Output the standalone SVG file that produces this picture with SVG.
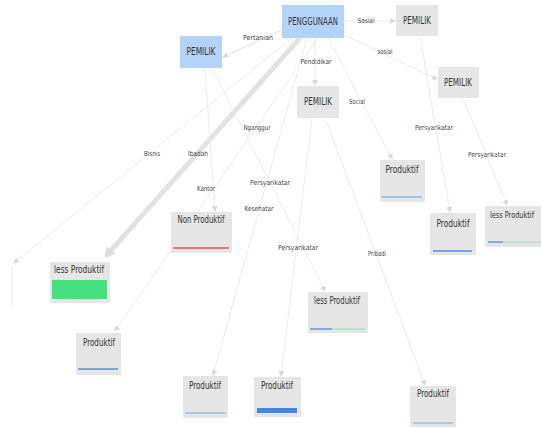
<svg xmlns="http://www.w3.org/2000/svg" width="541" height="428" viewBox="0 0 541 428">
<style>
.n{fill:#e6e6e6}
.b{fill:#b3d3f8}
.t{font-family:"DejaVu Sans Condensed","DejaVu Sans",sans-serif;font-stretch:condensed;font-size:10px;fill:#333;text-anchor:middle}
.l{font-family:"DejaVu Sans Condensed","DejaVu Sans",sans-serif;font-stretch:condensed;font-size:7px;fill:#444;text-anchor:middle}
.e{stroke:#ebebeb;stroke-width:1;fill:none}
</style>
<defs>
<marker id="a" markerWidth="6" markerHeight="6" refX="5" refY="3" orient="auto" markerUnits="userSpaceOnUse">
<path d="M0,0 L6,3 L0,6 z" fill="#dadada"/>
</marker>
<marker id="ab" markerWidth="12" markerHeight="12" refX="8" refY="6" orient="auto" markerUnits="userSpaceOnUse">
<path d="M0,0 L10,6 L0,12 z" fill="#dcdcdc"/>
</marker>
</defs>
<rect width="541" height="428" fill="#fff"/>
<g id="connectors">
<line class="e" x1="282" y1="30" x2="223" y2="57" marker-end="url(#a)" style="stroke:#e0e0e0"/>
<line class="e" x1="344" y1="21" x2="395" y2="21" marker-end="url(#a)"/>
<line class="e" x1="344" y1="35" x2="437" y2="79" marker-end="url(#a)"/>
<line class="e" x1="315" y1="38" x2="315" y2="85" marker-end="url(#a)"/>
<line class="e" x1="328" y1="38" x2="392" y2="159" marker-end="url(#a)"/>
<line x1="300" y1="38" x2="106" y2="256" stroke="#e2e2e2" stroke-width="5" marker-end="url(#ab)"/>
<line class="e" x1="292" y1="38" x2="14" y2="263" marker-end="url(#a)"/>
<line class="e" x1="12" y1="308" x2="12" y2="266"/>
<line class="e" x1="318" y1="38" x2="115" y2="331" marker-end="url(#a)"/>
<line class="e" x1="307" y1="38" x2="213" y2="375" marker-end="url(#a)"/>
<line class="e" x1="205" y1="68" x2="215" y2="211" marker-end="url(#a)"/>
<line class="e" x1="212" y1="68" x2="325" y2="291" marker-end="url(#a)"/>
<line class="e" x1="312" y1="118" x2="281" y2="376" marker-end="url(#a)"/>
<line class="e" x1="325" y1="118" x2="425" y2="385" marker-end="url(#a)"/>
<line class="e" x1="420" y1="36" x2="450" y2="212" marker-end="url(#a)"/>
<line class="e" x1="463" y1="98" x2="507" y2="205" marker-end="url(#a)"/>
<text class="l" x="258" y="40" textLength="30" lengthAdjust="spacingAndGlyphs">Pertanian</text>
<text class="l" x="366" y="23" textLength="17" lengthAdjust="spacingAndGlyphs">Sosial</text>
<text class="l" x="385" y="54" textLength="15" lengthAdjust="spacingAndGlyphs">sosial</text>
<text class="l" x="316" y="64" textLength="31" lengthAdjust="spacingAndGlyphs">Pendidikar</text>
<text class="l" x="357" y="104" textLength="16" lengthAdjust="spacingAndGlyphs">Social</text>
<text class="l" x="257" y="130" textLength="27" lengthAdjust="spacingAndGlyphs">Nganggur</text>
<text class="l" x="152" y="156" textLength="16" lengthAdjust="spacingAndGlyphs">Bisnis</text>
<text class="l" x="198" y="156" textLength="20" lengthAdjust="spacingAndGlyphs">Ibadah</text>
<text class="l" x="206" y="191" textLength="18" lengthAdjust="spacingAndGlyphs">Kantor</text>
<text class="l" x="270" y="185" textLength="40" lengthAdjust="spacingAndGlyphs">Persyarikatar</text>
<text class="l" x="259" y="211" textLength="29" lengthAdjust="spacingAndGlyphs">Kesehatar</text>
<text class="l" x="298" y="250" textLength="40" lengthAdjust="spacingAndGlyphs">Persyarikatar</text>
<text class="l" x="377" y="256" textLength="18" lengthAdjust="spacingAndGlyphs">Pribadi</text>
<text class="l" x="434" y="130" textLength="38" lengthAdjust="spacingAndGlyphs">Persyarikatar</text>
<text class="l" x="487" y="157" textLength="38" lengthAdjust="spacingAndGlyphs">Persyarikatar</text>
</g>
<g id="penggunaan">
<rect class="b" x="282" y="5" width="62" height="33"/>
<text class="t" x="313" y="25" textLength="50" lengthAdjust="spacingAndGlyphs">PENGGUNAAN</text>
</g>
<g id="pemilik-pertanian">
<rect class="b" x="180" y="36" width="42" height="32"/>
<text class="t" x="201" y="55" textLength="29" lengthAdjust="spacingAndGlyphs">PEMILIK</text>
</g>
<g id="pemilik-sosial1">
<rect class="n" x="396" y="5" width="42" height="31"/>
<text class="t" x="417" y="24" textLength="28" lengthAdjust="spacingAndGlyphs">PEMILIK</text>
</g>
<g id="pemilik-sosial2">
<rect class="n" x="438" y="67" width="41" height="31"/>
<text class="t" x="458" y="86" textLength="28" lengthAdjust="spacingAndGlyphs">PEMILIK</text>
</g>
<g id="pemilik-pendidikan">
<rect class="n" x="297" y="86" width="42" height="32"/>
<text class="t" x="318" y="105" textLength="28" lengthAdjust="spacingAndGlyphs">PEMILIK</text>
</g>
<g id="produktif-social">
<rect class="n" x="380" y="160" width="45" height="42"/>
<text class="t" x="402" y="173" textLength="33" lengthAdjust="spacingAndGlyphs">Produktif</text>
<line x1="382" y1="197" x2="422" y2="197" stroke="#8fb3e6" stroke-width="1.5"/>
</g>
<g id="produktif-right">
<rect class="n" x="430" y="213" width="46" height="42"/>
<text class="t" x="453" y="227" textLength="33" lengthAdjust="spacingAndGlyphs">Produktif</text>
<line x1="433" y1="251" x2="472" y2="251" stroke="#5b8ed8" stroke-width="1.5"/>
</g>
<g id="less-produktif-right">
<rect class="n" x="485" y="206" width="56" height="41"/>
<text class="t" x="512" y="218" style="font-size:8.5px" textLength="44" lengthAdjust="spacingAndGlyphs">less Produktif</text>
<line x1="488" y1="242" x2="503" y2="242" stroke="#6d93d0" stroke-width="1.5"/>
<line x1="503" y1="242" x2="541" y2="242" stroke="#a6e3c0" stroke-width="1.5"/>
</g>
<g id="non-produktif">
<rect class="n" x="171" y="212" width="61" height="41"/>
<text class="t" x="201" y="223" textLength="47" lengthAdjust="spacingAndGlyphs">Non Produktif</text>
<line x1="173" y1="248" x2="229" y2="248" stroke="#e0584a" stroke-width="1.5"/>
</g>
<g id="less-produktif-left">
<rect class="n" x="50" y="262" width="60" height="41"/>
<text class="t" x="79" y="273" textLength="50" lengthAdjust="spacingAndGlyphs">less Produktif</text>
<rect x="52" y="280" width="55" height="19" fill="#46e07e"/>
</g>
<g id="produktif-lower-left">
<rect class="n" x="76" y="333" width="45" height="42"/>
<text class="t" x="99" y="346" textLength="32" lengthAdjust="spacingAndGlyphs">Produktif</text>
<line x1="78" y1="369" x2="118" y2="369" stroke="#5b8ed8" stroke-width="1.5"/>
</g>
<g id="produktif-bottom-1">
<rect class="n" x="183" y="376" width="45" height="42"/>
<text class="t" x="205" y="389" textLength="32" lengthAdjust="spacingAndGlyphs">Produktif</text>
<line x1="185" y1="413" x2="226" y2="413" stroke="#7ca3dd" stroke-width="1.2"/>
</g>
<g id="produktif-bottom-2">
<rect class="n" x="254" y="377" width="47" height="40"/>
<text class="t" x="277" y="389" textLength="32" lengthAdjust="spacingAndGlyphs">Produktif</text>
<rect x="257" y="408" width="40" height="5" fill="#4a86e0"/>
</g>
<g id="less-produktif-center">
<rect class="n" x="308" y="292" width="60" height="41"/>
<text class="t" x="337" y="304" textLength="46" lengthAdjust="spacingAndGlyphs">less Produktif</text>
<line x1="310" y1="329" x2="332" y2="329" stroke="#6d93d0" stroke-width="1.5"/>
<line x1="332" y1="329" x2="365" y2="329" stroke="#a6e3c0" stroke-width="1.5"/>
</g>
<g id="produktif-bottom-right">
<rect class="n" x="410" y="386" width="46" height="41"/>
<text class="t" x="433" y="397" textLength="32" lengthAdjust="spacingAndGlyphs">Produktif</text>
<line x1="413" y1="423" x2="453" y2="423" stroke="#7ca3dd" stroke-width="1.2"/>
</g>
</svg>
